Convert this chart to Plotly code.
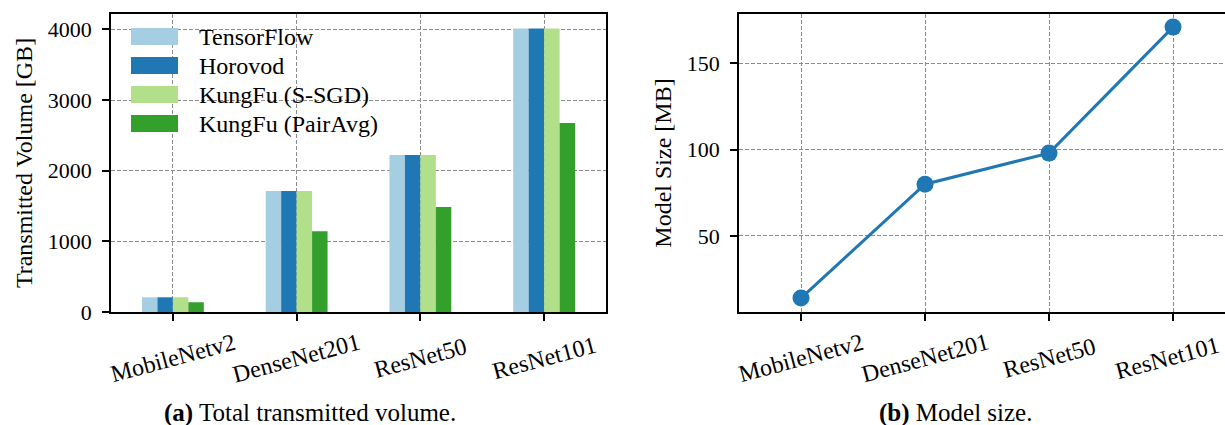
import plotly.graph_objects as go

# ---------------- data ----------------
models = ["MobileNetv2", "DenseNet201", "ResNet50", "ResNet101"]
series_names = ["TensorFlow", "Horovod", "KungFu (S-SGD)", "KungFu (PairAvg)"]
tensorflow_gb = [208, 1711, 2220, 4012]
horovod_gb = [208, 1711, 2220, 4012]
kungfu_ssgd_gb = [208, 1711, 2220, 4012]
kungfu_pairavg_gb = [138, 1143, 1485, 2673]
model_size_mb = [14, 80, 98, 171]
vol_ticks = [0, 1000, 2000, 3000, 4000]
size_ticks = [50, 100, 150]
caption_a = "<b>(a)</b> Total transmitted volume."
caption_b = "<b>(b)</b> Model size."

colors = ["#a6cee3", "#1f78b4", "#b2df8a", "#33a02c"]
line_color = "#1f77b4"
FONT = "Liberation Serif"
FS = 24      # text size
TFS = 22     # tick-number size
W, H = 1225, 425


def px(x):
    return x / W


def py(y):
    return 1 - y / H


fig = go.Figure()
x_idx = list(range(len(models)))
vol_series = [tensorflow_gb, horovod_gb, kungfu_ssgd_gb, kungfu_pairavg_gb]
for name, vals, col in zip(series_names, vol_series, colors):
    fig.add_trace(go.Bar(x=x_idx, y=vals, name=name, marker=dict(color=col, line=dict(width=0)),
                         xaxis="x", yaxis="y", showlegend=False))

fig.add_trace(go.Scatter(x=x_idx, y=model_size_mb, mode="lines+markers",
                         line=dict(color=line_color, width=3),
                         marker=dict(color=line_color, size=17),
                         xaxis="x2", yaxis="y2", showlegend=False))

grid = dict(showgrid=True, gridcolor="#8c8c8c", gridwidth=1, griddash="4px,2px")
common = dict(showline=True, linecolor="black", linewidth=1.6, ticks="outside", ticklen=7,
              tickwidth=1.6, tickcolor="black", zeroline=False, automargin=False,
              tickfont=dict(family=FONT, size=TFS, color="black"), **grid)

ydom = [py(312), py(14)]
fig.update_layout(
    template="none",
    width=W, height=H, autosize=False, margin=dict(l=0, r=0, t=0, b=0, pad=0),
    paper_bgcolor="white", plot_bgcolor="white",
    barmode="group", bargap=0.5, bargroupgap=0, showlegend=False,
    font=dict(family=FONT, size=FS, color="black"),
    xaxis=dict(domain=[px(111), px(606)], range=[-0.5, 3.5], tickvals=x_idx,
               showticklabels=False, mirror=True, anchor="y", **common),
    yaxis=dict(domain=ydom, range=[0, 4217], tickvals=vol_ticks, mirror=True, anchor="x",
               ticklabelstandoff=6,
               title=dict(text="Transmitted Volume [GB]", font=dict(family=FONT, size=FS), standoff=8),
               **common),
    xaxis2=dict(domain=[px(739), 1.0], range=[-0.5, 3.419], tickvals=x_idx,
                showticklabels=False, mirror=True, anchor="y2", **common),
    yaxis2=dict(domain=ydom, range=[5.95, 178.6], tickvals=size_ticks, mirror=False, anchor="x2",
                ticklabelstandoff=6,
                title=dict(text="Model Size [MB]", font=dict(family=FONT, size=FS), standoff=8),
                **common),
)

annotations = []
# rotated category labels
for xa in ["x", "x2"]:
    for i, m in enumerate(models):
        shift = -6 if (xa == "x2" and i == len(models) - 1) else 0
        annotations.append(dict(x=i, xref=xa, y=py(358), yref="paper", text=m, showarrow=False,
                                textangle=-15, xanchor="center", yanchor="middle", xshift=shift,
                                font=dict(family=FONT, size=FS, color="black")))
# sub-captions
annotations.append(dict(x=px(310), y=py(413), xref="paper", yref="paper", text=caption_a,
                        showarrow=False, xanchor="center", yanchor="middle",
                        font=dict(family=FONT, size=25, color="black")))
annotations.append(dict(x=px(955), y=py(413), xref="paper", yref="paper", text=caption_b,
                        showarrow=False, xanchor="center", yanchor="middle",
                        font=dict(family=FONT, size=25, color="black")))

# legend drawn matplotlib-style (wide patches, no frame)
shapes = []
row_tops = [28, 57, 86, 115]
for name, col, top in zip(series_names, colors, row_tops):
    shapes.append(dict(type="rect", xref="paper", yref="paper", x0=px(131), x1=px(178),
                       y0=py(top + 17), y1=py(top), fillcolor=col, line=dict(width=0), layer="above"))
    annotations.append(dict(x=px(197), y=py(top + 9), xref="paper", yref="paper", text=name,
                            showarrow=False, xanchor="left", yanchor="middle",
                            font=dict(family=FONT, size=FS, color="black")))

fig.update_layout(annotations=annotations, shapes=shapes)
fig.write_html("out.html")
